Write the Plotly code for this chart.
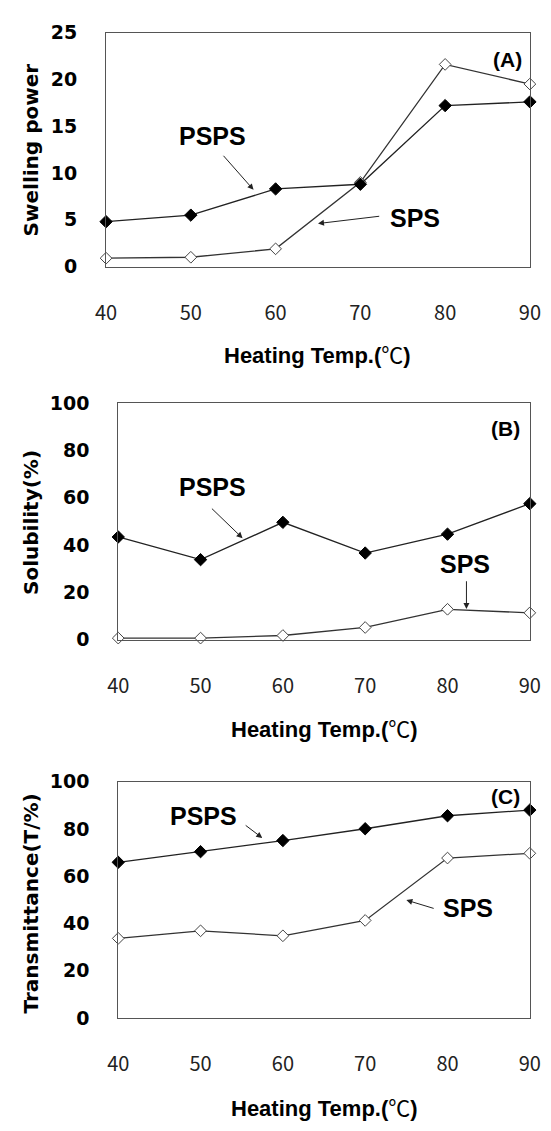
import plotly.graph_objects as go

temps = [40, 50, 60, 70, 80, 90]
swelling_psps = [4.8, 5.5, 8.3, 8.8, 17.2, 17.6]
swelling_sps = [0.9, 1.0, 1.9, 9.0, 21.6, 19.5]
solubility_psps = [43.4, 33.8, 49.6, 36.6, 44.6, 57.5]
solubility_sps = [0.6, 0.6, 1.7, 5.1, 12.8, 11.3]
transmit_psps = [65.9, 70.4, 75.1, 80.1, 85.6, 88.0]
transmit_sps = [33.7, 36.9, 34.8, 41.3, 67.7, 69.7]

panel_titles_y = ["Swelling power", "Solubility(%)", "Transmittance(T/%)"]
x_title = "Heating Temp.(<span style='font-weight:normal'>℃</span>)"

W, H = 551, 1131
BOLD = "Liberation Sans, Arial, Noto Sans CJK KR"
TICKY = "DejaVu Sans, Liberation Sans"
TICKX = "Noto Sans CJK KR, Noto Sans"

# panel boxes in pixels: (left, right, top, bottom)
boxes = [(99, 540.5, 22, 260.7), (111.7, 540.4, 400, 641), (111.7, 540.4, 786, 1027)]
yranges = [[0, 25], [0, 100], [0, 100]]
ydticks = [5, 20, 20]
series = [(swelling_psps, swelling_sps), (solubility_psps, solubility_sps), (transmit_psps, transmit_sps)]
xtitle_y = [351, 733, 1119]
ytitle_y = [142, 522, 910]

fig = go.Figure()
layout = dict(width=W, height=H, margin=dict(l=0, r=0, t=0, b=0),
              paper_bgcolor="white", plot_bgcolor="white", showlegend=False)
annotations = []

for i, (box, yr, dt, (ps, ss)) in enumerate(zip(boxes, yranges, ydticks, series)):
    l, r, t, b = box
    sfx = "" if i == 0 else str(i + 1)
    xa, ya = "x" + sfx, "y" + sfx
    layout["xaxis" + sfx] = dict(
        domain=[l / W, r / W], range=[40, 90], anchor=ya, tickvals=temps,
        showgrid=False, zeroline=False, showline=True, mirror=True,
        linecolor="#555", linewidth=1, ticks="", ticklabelstandoff=28,
        ticklabeloverflow="allow",
        tickfont=dict(family=TICKX, size=20, color="#222"))
    layout["yaxis" + sfx] = dict(
        domain=[1 - b / H, 1 - t / H], range=yr, dtick=dt, anchor=xa,
        showgrid=False, zeroline=False, showline=True, mirror=True,
        linecolor="#555", linewidth=1, ticks="", ticklabelstandoff=24,
        ticklabeloverflow="allow",
        tickfont=dict(family=TICKY, size=19, color="black", weight="bold"))
    fig.add_trace(go.Scatter(
        x=temps, y=ss, xaxis=xa, yaxis=ya, mode="lines+markers", cliponaxis=False,
        line=dict(color="#333", width=1.3),
        marker=dict(symbol="diamond", size=9, color="white", line=dict(color="#444", width=1))))
    fig.add_trace(go.Scatter(
        x=temps, y=ps, xaxis=xa, yaxis=ya, mode="lines+markers", cliponaxis=False,
        line=dict(color="#222", width=1.3),
        marker=dict(symbol="diamond", size=9.5, color="black", line=dict(color="black", width=1))))
    # axis titles
    annotations.append(dict(xref="paper", yref="paper", x=(l + r) / 2 / W, y=1 - xtitle_y[i] / H,
                            text=x_title, showarrow=False, xanchor="center", yanchor="middle",
                            font=dict(family=BOLD, size=22, color="black", weight="bold")))
    annotations.append(dict(xref="paper", yref="paper", x=21 / W, y=1 - ytitle_y[i] / H,
                            text=panel_titles_y[i], showarrow=False, textangle=-90,
                            xanchor="center", yanchor="middle",
                            font=dict(family=TICKY, size=20, color="black", weight="bold")))

# labels and arrows, in data coordinates of each panel
labels = [
    # panel, text, x, y, size
    (0, "PSPS", 52.6, 14.0, 25), (0, "SPS", 76.5, 5.24, 25), (0, "(A)", 87.3, 22.1, 21),
    (1, "PSPS", 51.5, 64.7, 25), (1, "SPS", 82.1, 31.8, 25), (1, "(B)", 87.0, 89.2, 21),
    (2, "PSPS", 50.4, 85.6, 25), (2, "SPS", 82.5, 46.5, 25), (2, "(C)", 87.0, 93.9, 21),
]
arrows = [
    # panel, tail x, tail y, head x, head y
    (0, 53.7, 12.0, 57.4, 8.2), (0, 72.4, 5.4, 65.0, 4.6),
    (1, 51.2, 56.0, 55.1, 42.9), (1, 82.3, 25.3, 82.3, 12.9),
    (2, 55.3, 82.0, 57.5, 76.2), (2, 78.5, 46.2, 75.0, 49.9),
]
for p, txt, x, y, s in labels:
    sfx = "" if p == 0 else str(p + 1)
    annotations.append(dict(xref="x" + sfx, yref="y" + sfx, x=x, y=y, text=txt, showarrow=False,
                            xanchor="center", yanchor="middle",
                            font=dict(family=BOLD, size=s, color="black", weight="bold")))
for p, tx, ty, hx, hy in arrows:
    sfx = "" if p == 0 else str(p + 1)
    annotations.append(dict(xref="x" + sfx, yref="y" + sfx, axref="x" + sfx, ayref="y" + sfx,
                            x=hx, y=hy, ax=tx, ay=ty, text="", showarrow=True,
                            arrowhead=2, arrowsize=1.2, arrowwidth=1, arrowcolor="#222", standoff=0))

layout["annotations"] = annotations
fig.update_layout(**layout)
fig.write_html("out.html")
